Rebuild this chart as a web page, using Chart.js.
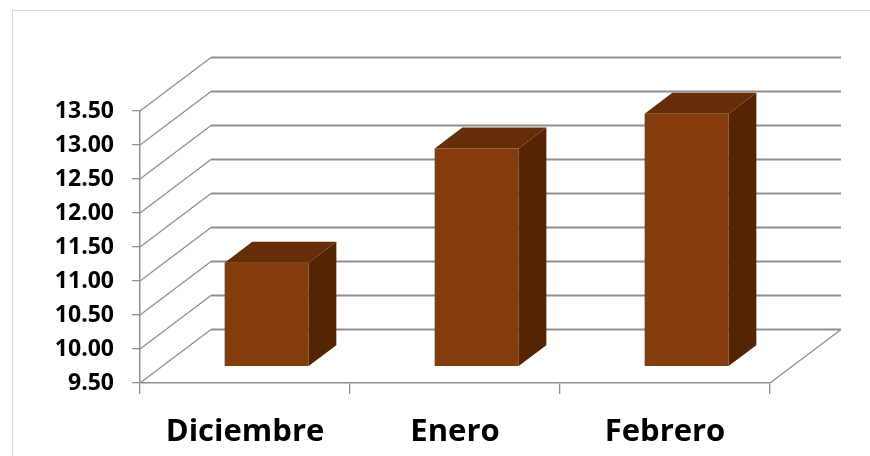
<!DOCTYPE html>
<html>
<head>
<meta charset="utf-8">
<script src="https://cdn.jsdelivr.net/npm/chart.js@4/dist/chart.umd.min.js"></script>
<style>
  html, body { margin: 0; padding: 0; background: #fff; }
  #wrap { width: 870px; height: 456px; }
</style>
</head>
<body>
<div id="wrap"><canvas id="grafico" width="870" height="456"></canvas></div>
<script>
// datos del gráfico
const meses = ['Diciembre', 'Enero', 'Febrero'];
const valores = [11.03, 12.71, 13.22];
const ejeMin = 9.5;
const ejeMax = 13.5;
const paso = 0.5;

// profundidad de la caja 3D (proyección oblicua)
const PROF_X = 71;
const PROF_Y = 53.5;
const INICIO_BARRA = 0.305;   // fracción de profundidad donde empieza la barra
const FONDO_BARRA = 0.39;     // fracción de profundidad que ocupa la barra

const colorFrente = '#843C0C';
const colorTapa = '#652E08';
const colorLado = '#542505';
const colorRejilla = '#8f8f8f';

// borde exterior, paredes y suelo
const caja3D = {
    id: 'caja3D',
    beforeDraw(chart) {
        const ctx = chart.ctx;
        ctx.save();
        ctx.strokeStyle = '#d9d9d9';
        ctx.lineWidth = 1;
        ctx.strokeRect(12.5, 10.5, 880, 480);
        ctx.restore();
    },
    beforeDatasetsDraw(chart) {
        const ctx = chart.ctx;
        const area = chart.chartArea;
        const y = chart.scales.y;
        ctx.save();
        y.ticks.forEach(t => {
            const py = y.getPixelForValue(t.value);
            // diagonal de la pared izquierda
            ctx.strokeStyle = colorRejilla;
            ctx.lineWidth = 1.3;
            ctx.beginPath();
            ctx.moveTo(area.left, py);
            ctx.lineTo(area.left + PROF_X, py - PROF_Y);
            ctx.stroke();
            // línea de la pared del fondo
            ctx.lineWidth = 2;
            ctx.beginPath();
            ctx.moveTo(area.left + PROF_X, py - PROF_Y);
            ctx.lineTo(area.right + PROF_X, py - PROF_Y);
            ctx.stroke();
        });
        // borde derecho del suelo
        ctx.lineWidth = 1.3;
        ctx.beginPath();
        ctx.moveTo(area.right, area.bottom);
        ctx.lineTo(area.right + PROF_X, area.bottom - PROF_Y);
        ctx.stroke();
        ctx.restore();

        // las barras se dibujan desplazadas hacia el fondo
        ctx.save();
        ctx.translate(PROF_X * INICIO_BARRA, -PROF_Y * INICIO_BARRA);
    },
    afterDatasetsDraw(chart) {
        const ctx = chart.ctx;
        ctx.restore();
        const dx = PROF_X * FONDO_BARRA;
        const dy = PROF_Y * FONDO_BARRA;
        const ox = PROF_X * INICIO_BARRA;
        const oy = -PROF_Y * INICIO_BARRA;
        ctx.save();
        chart.getDatasetMeta(0).data.forEach(bar => {
            const p = bar.getProps(['x', 'y', 'base', 'width'], true);
            const l = p.x - p.width / 2 + ox;
            const r = p.x + p.width / 2 + ox;
            const t = p.y + oy;
            const b = p.base + oy;
            // tapa
            ctx.fillStyle = colorTapa;
            ctx.beginPath();
            ctx.moveTo(l, t);
            ctx.lineTo(l + dx, t - dy);
            ctx.lineTo(r + dx, t - dy);
            ctx.lineTo(r, t);
            ctx.closePath();
            ctx.fill();
            // lado derecho
            ctx.fillStyle = colorLado;
            ctx.beginPath();
            ctx.moveTo(r, t);
            ctx.lineTo(r + dx, t - dy);
            ctx.lineTo(r + dx, b - dy);
            ctx.lineTo(r, b);
            ctx.closePath();
            ctx.fill();
        });
        ctx.restore();
    }
};

const ctx = document.getElementById('grafico').getContext('2d');
new Chart(ctx, {
    type: 'bar',
    data: {
        labels: meses,
        datasets: [{
            data: valores,
            base: ejeMin,
            backgroundColor: colorFrente,
            borderWidth: 0,
            barPercentage: 0.4,
            categoryPercentage: 1,
            clip: false
        }]
    },
    options: {
        responsive: false,
        animation: false,
        events: [],
        layout: {
            padding: { top: 111, right: 100, left: 0, bottom: 0 }
        },
        plugins: {
            legend: { display: false },
            tooltip: { enabled: false }
        },
        scales: {
            x: {
                offset: true,
                afterFit(scale) { scale.height = 73; },
                grid: {
                    offset: true,
                    drawOnChartArea: false,
                    tickLength: 11,
                    color: colorRejilla,
                    lineWidth: 1.3
                },
                border: { display: true, color: colorRejilla, width: 1.5 },
                ticks: {
                    color: '#000',
                    padding: 20,
                    font: { family: '"Open Sans"', size: 31, weight: 'bold' }
                }
            },
            y: {
                min: ejeMin,
                max: ejeMax,
                afterFit(scale) { scale.width = 140; },
                grid: {
                    drawOnChartArea: false,
                    tickLength: 8,
                    color: colorRejilla,
                    lineWidth: 1.3
                },
                border: { display: true, color: colorRejilla, width: 1.5 },
                ticks: {
                    stepSize: paso,
                    color: '#000',
                    padding: 18,
                    font: { family: '"Open Sans"', size: 23, weight: 'bold' },
                    callback: v => v.toFixed(2)
                }
            }
        }
    },
    plugins: [caja3D]
});
</script>
</body>
</html>
